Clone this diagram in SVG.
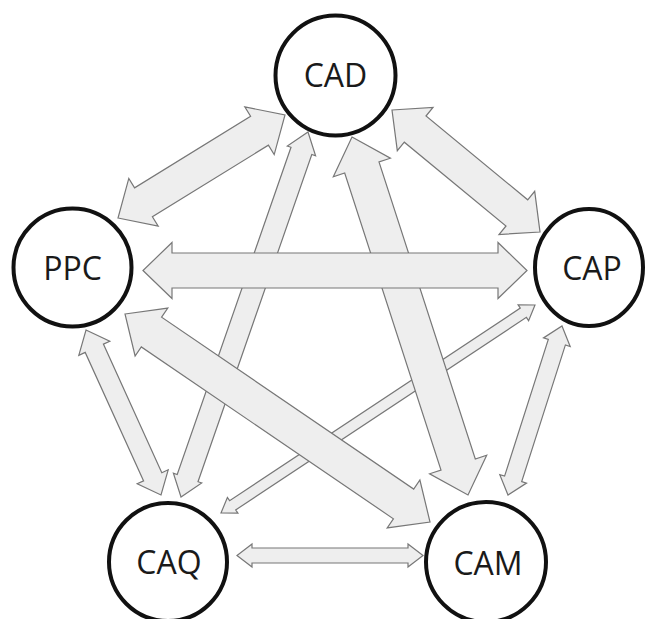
<svg xmlns="http://www.w3.org/2000/svg" width="646" height="619" viewBox="0 0 646 619">
<style>
.arr{fill:#eeeeee;stroke:#777777;stroke-width:1.2;stroke-linejoin:miter}
.node circle,.node ellipse{fill:#ffffff;stroke:#111111;stroke-width:4}
.node text{font-family:"Open Sans","Liberation Sans",sans-serif;font-size:32px;fill:#1a1a1a;text-anchor:middle}
</style>
<rect width="646" height="619" fill="#ffffff"/>
<g id="connectors">
<polygon id="cap-caq" class="arr" points="535,305 528.6,320.7 526.4,317.3 235.7,509.9 237.9,513.2 221,513 227.4,497.4 229.6,500.7 520.3,308.1 518.1,304.8"/>
<polygon id="cad-caq" class="arr" points="308,132 315.6,155.8 311.8,154.5 198,481.7 201.7,483 181,497 173.4,473.2 177.2,474.5 291,147.3 287.3,146"/>
<polygon id="cad-cam" class="arr" points="352,137 390.4,158.2 379,161.9 475.3,459 486.7,455.3 468,495 429.6,473.8 441,470.1 344.7,173 333.3,176.7"/>
<polygon id="ppc-cam" class="arr" points="125,314 167.8,308.1 161.6,317.2 413.7,489.1 419.9,480 430,522 387.2,527.9 393.4,518.8 141.3,346.9 135.1,356"/>
<polygon id="ppc-caq" class="arr" points="86,330 109.8,341.2 103.4,344.1 161.8,472.7 168.2,469.8 161,495 137.2,483.8 143.6,480.9 85.2,352.4 78.8,355.3"/>
<polygon id="cap-cam" class="arr" points="562,326 570.2,346.5 565.4,344.9 521.7,481.6 526.5,483.1 508,495 499.8,474.6 504.6,476.1 548.3,339.5 543.5,337.9"/>
<polygon id="cad-ppc" class="arr" points="118,218 158.2,226.1 152.4,216.7 268.4,145.2 274.2,154.6 285,115 244.8,106.9 250.6,116.3 134.6,187.8 128.8,178.4"/>
<polygon id="cad-cap" class="arr" points="392,110 433,107.5 426,116 527.7,199.8 534.7,191.3 540,232 499,234.5 506,226 404.3,142.2 397.3,150.7"/>
<polygon id="ppc-cap" class="arr" points="143,270.5 172,298.5 172,288 498,288 498,298.5 527,270.5 498,242.5 498,253 172,253 172,242.5"/>
<polygon id="caq-cam" class="arr" points="237,555.5 252,567 252,563 408,563 408,567 423,555.5 408,544 408,548 252,548 252,544"/>
</g>
<g id="CAD" class="node"><circle cx="335.5" cy="75.5" r="60"/><text x="335.5" y="87">CAD</text></g>
<g id="PPC" class="node"><circle cx="72.5" cy="267.5" r="59"/><text x="72.5" y="280">PPC</text></g>
<g id="CAP" class="node"><ellipse cx="589" cy="267.5" rx="54" ry="58.5"/><text x="592" y="280">CAP</text></g>
<g id="CAQ" class="node"><circle cx="168" cy="562" r="59"/><text x="169" y="574">CAQ</text></g>
<g id="CAM" class="node"><circle cx="486" cy="562" r="60"/><text x="488" y="575">CAM</text></g>
</svg>
